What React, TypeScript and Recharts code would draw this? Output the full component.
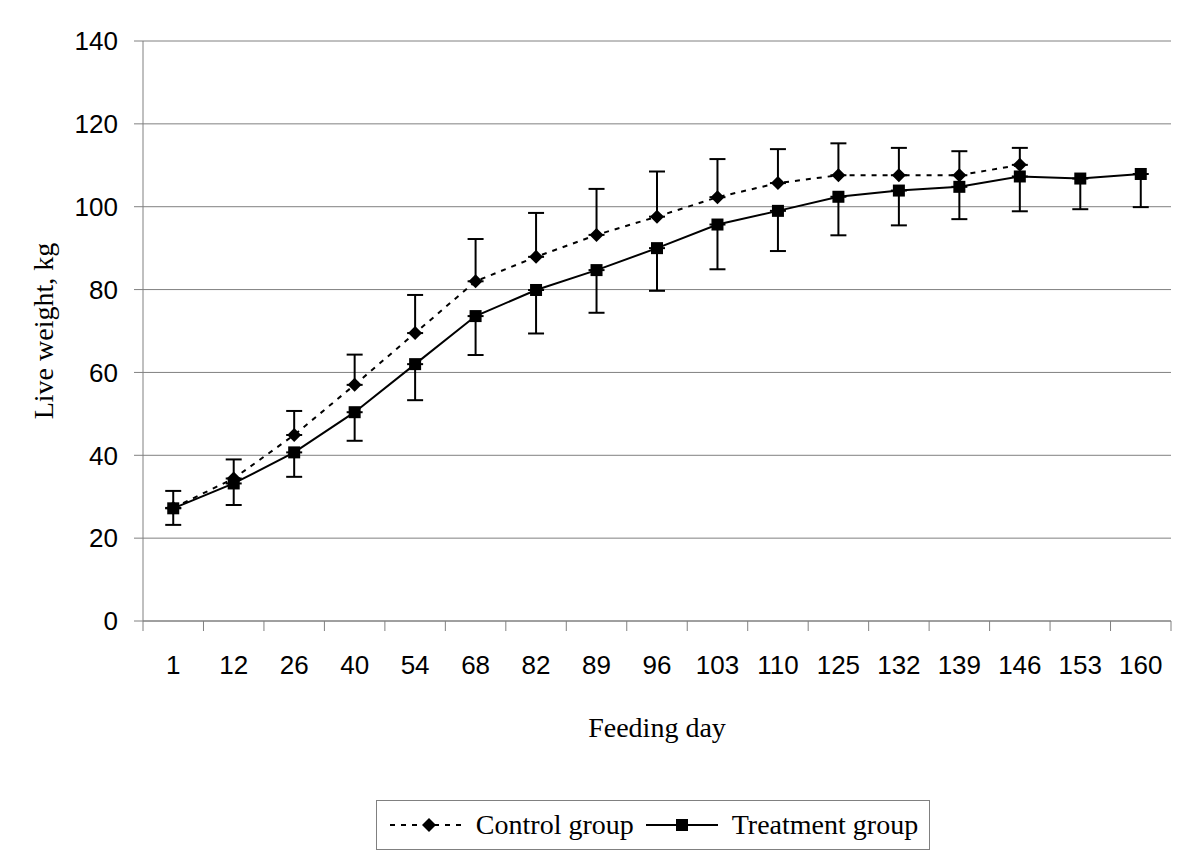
import { LineChart, Line, XAxis, YAxis, CartesianGrid, ErrorBar, Legend } from 'recharts';

const days = ['1', '12', '26', '40', '54', '68', '82', '89', '96', '103', '110', '125', '132', '139', '146', '153', '160'];
const control = [27.3, 34.4, 44.9, 57, 69.5, 82, 87.9, 93.2, 97.6, 102.3, 105.7, 107.6, 107.6, 107.6, 110.1, null, null];
const controlUpper = [31.4, 39, 50.7, 64.3, 78.7, 92.2, 98.5, 104.3, 108.5, 111.5, 113.9, 115.3, 114.2, 113.4, 114.2, null, null];
const treatment = [27.2, 33.2, 40.7, 50.4, 62, 73.6, 79.9, 84.7, 90, 95.7, 99, 102.4, 103.9, 104.8, 107.3, 106.8, 107.9];
const treatmentLower = [23.2, 28, 34.8, 43.5, 53.3, 64.2, 69.4, 74.4, 79.7, 84.9, 89.3, 93.1, 95.5, 97, 98.9, 99.4, 99.9];
const yTicks = [0, 20, 40, 60, 80, 100, 120, 140];

const chartData = days.map((day, i) => ({
  day,
  control: control[i],
  controlErr: control[i] == null ? undefined : [0, (controlUpper[i] as number) - (control[i] as number)],
  treatment: treatment[i],
  treatmentErr: [treatment[i] - treatmentLower[i], 0],
}));

const W = 1200;
const H = 866;
const PLOT_LEFT = 143;
const PLOT_RIGHT = 1171;
const PLOT_BOTTOM = 621;
const BAND = (PLOT_RIGHT - PLOT_LEFT) / days.length;
const GREY = '#808080';
const SERIF = '"Liberation Serif", "Times New Roman", serif';
const SANS = '"Liberation Sans", Arial, sans-serif';

function Diamond(props: any) {
  const { cx, cy } = props;
  if (cx == null || cy == null) return <g key={props.key} />;
  const r = 7;
  return (
    <polygon
      key={props.key}
      points={`${cx},${cy - r} ${cx + r},${cy} ${cx},${cy + r} ${cx - r},${cy}`}
      fill="#000"
    />
  );
}

function Square(props: any) {
  const { cx, cy } = props;
  if (cx == null || cy == null) return <g key={props.key} />;
  return <rect key={props.key} x={cx - 6} y={cy - 6} width={12} height={12} fill="#000" />;
}

// Excel-style category axis: tick marks sit between categories
function DayTick(props: any) {
  const { x, payload, index } = props;
  const left = x - BAND / 2;
  return (
    <g>
      <line x1={left} y1={PLOT_BOTTOM} x2={left} y2={PLOT_BOTTOM + 10} stroke={GREY} />
      {index === days.length - 1 && (
        <line x1={left + BAND} y1={PLOT_BOTTOM} x2={left + BAND} y2={PLOT_BOTTOM + 10} stroke={GREY} />
      )}
      <text x={x} y={PLOT_BOTTOM + 53} textAnchor="middle" fontFamily={SANS} fontSize={26} fill="#000">
        {payload.value}
      </text>
    </g>
  );
}

function LegendBox() {
  return (
    <div
      style={{
        border: `1px solid ${GREY}`,
        height: 50,
        display: 'flex',
        alignItems: 'center',
        justifyContent: 'center',
        fontFamily: SERIF,
        fontSize: 28,
        color: '#000',
        boxSizing: 'border-box',
      }}
    >
      <svg width={76} height={20} style={{ marginRight: 12 }}>
        <line x1={2} y1={10} x2={74} y2={10} stroke="#000" strokeWidth={2} strokeDasharray="5 6" />
        <polygon points="41,3 48,10 41,17 34,10" fill="#000" />
      </svg>
      <span>Control group</span>
      <svg width={76} height={20} style={{ marginLeft: 10, marginRight: 12 }}>
        <line x1={2} y1={10} x2={74} y2={10} stroke="#000" strokeWidth={2} />
        <rect x={32} y={4} width={12} height={12} fill="#000" />
      </svg>
      <span>Treatment group</span>
    </div>
  );
}

export default function App() {
  return (
    <div style={{ position: 'absolute', left: 0, top: 0, width: W, height: H, background: '#fff' }}>
      <LineChart
        width={W}
        height={H}
        data={chartData}
        margin={{ top: 41, right: W - PLOT_RIGHT, bottom: 70, left: 0 }}
      >
        <CartesianGrid vertical={false} stroke={GREY} strokeWidth={1} />
        <XAxis
          dataKey="day"
          height={125}
          stroke={GREY}
          tickLine={false}
          interval={0}
          padding={{ left: BAND / 2, right: BAND / 2 }}
          tick={<DayTick />}
          label={{
            value: 'Feeding day',
            position: 'insideBottom',
            offset: 9,
            fontFamily: SERIF,
            fontSize: 28,
            fill: '#000',
          }}
        />
        <YAxis
          width={PLOT_LEFT}
          domain={[0, 140]}
          ticks={yTicks}
          stroke={GREY}
          tickSize={9}
          tickMargin={16}
          tick={{ fontFamily: SANS, fontSize: 26, fill: '#000' }}
          label={{
            value: 'Live weight, kg',
            angle: -90,
            position: 'insideLeft',
            offset: 43,
            style: { textAnchor: 'middle' },
            fontFamily: SERIF,
            fontSize: 28,
            fill: '#000',
          }}
        />
        <Legend
          verticalAlign="bottom"
          content={() => <LegendBox />}
          wrapperStyle={{ top: 800, left: 376, width: 554, bottom: 'auto' }}
        />
        <Line
          dataKey="control"
          name="Control group"
          stroke="#000"
          strokeWidth={2}
          strokeDasharray="5 6"
          dot={<Diamond />}
          activeDot={false}
          connectNulls={false}
          isAnimationActive={false}
        >
          <ErrorBar dataKey="controlErr" direction="y" width={8} stroke="#000" strokeWidth={2} />
        </Line>
        <Line
          dataKey="treatment"
          name="Treatment group"
          stroke="#000"
          strokeWidth={2}
          dot={<Square />}
          activeDot={false}
          isAnimationActive={false}
        >
          <ErrorBar dataKey="treatmentErr" direction="y" width={8} stroke="#000" strokeWidth={2} />
        </Line>
      </LineChart>
    </div>
  );
}
